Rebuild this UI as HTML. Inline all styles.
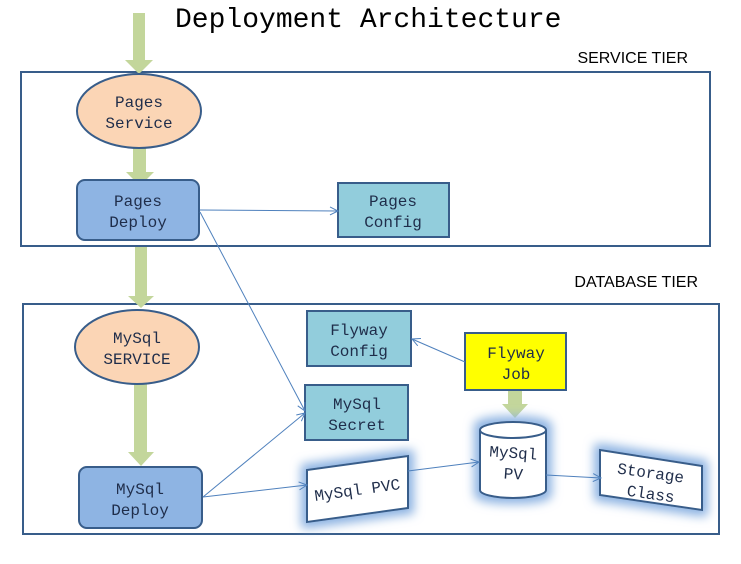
<!DOCTYPE html>
<html><head><style>body{margin:0;background:#fff}svg{display:block}</style></head><body>
<svg width="741" height="564" xmlns="http://www.w3.org/2000/svg" font-family="Liberation Mono, monospace">
<defs>
<marker id="a" markerWidth="10" markerHeight="10" refX="9" refY="5" orient="auto" markerUnits="userSpaceOnUse"><path d="M1,1 L9,5 L1,9" fill="none" stroke="#4f81bd" stroke-width="1"/></marker>
<filter id="g" x="-40%" y="-40%" width="180%" height="180%"><feMorphology in="SourceAlpha" operator="dilate" radius="5" result="d"/><feGaussianBlur in="d" stdDeviation="5" result="b"/><feFlood flood-color="#8db3e2"/><feComposite in2="b" operator="in"/><feMerge><feMergeNode/><feMergeNode in="SourceGraphic"/></feMerge></filter>
</defs>
<text x="175" y="27" font-size="28" fill="#000">Deployment Architecture</text>
<text x="688" y="63" font-size="16" font-family="Liberation Sans, sans-serif" text-anchor="end">SERVICE TIER</text>
<text x="698" y="287" font-size="16" font-family="Liberation Sans, sans-serif" text-anchor="end">DATABASE TIER</text>
<rect x="21" y="72" width="689" height="174" fill="none" stroke="#385d8a" stroke-width="2"/>
<rect x="23" y="304" width="696" height="230" fill="none" stroke="#385d8a" stroke-width="2"/>
<g fill="#c3d69b">
<path d="M133,13h12v47h8l-14,14l-14,-14h8z"/>
<path d="M133,148h13v24h8l-14,14l-14,-14h7z"/>
<path d="M135,247h12v49h7l-13,12l-13,-12h7z"/>
<path d="M134,380h13v72h7l-13,14l-13,-14h6z"/>
<path d="M508,390h14v14h6l-13,14l-13,-14h6z"/>
</g>
<g stroke="#385d8a" stroke-width="2">
<ellipse cx="139" cy="111" rx="62" ry="37" fill="#fbd5b5"/>
<ellipse cx="137" cy="347" rx="62" ry="37" fill="#fbd5b5"/>
<rect x="77" y="180" width="122" height="60" rx="8" fill="#8eb4e3"/>
<rect x="79" y="467" width="123" height="61" rx="8" fill="#8eb4e3"/>
<rect x="338" y="183" width="111" height="54" fill="#92cddc"/>
<rect x="307" y="311" width="104" height="55" fill="#92cddc"/>
<rect x="305" y="385" width="103" height="55" fill="#92cddc"/>
<rect x="465" y="333" width="101" height="57" fill="#ffff00"/>
<path d="M307,470L408,456L408,508L307,522Z" fill="#fff" filter="url(#g)"/>
<path d="M600,450L702,466L702,510L600,495Z" fill="#fff" filter="url(#g)"/>
<path d="M480,430 A33,8 0 0 1 546,430 L546,490 A33,8 0 0 1 480,490 Z" fill="#fff" filter="url(#g)"/>
<path d="M480,430 A33,8 0 0 0 546,430" fill="none"/>
</g>
<g stroke="#4f81bd" stroke-width="1" fill="none" marker-end="url(#a)">
<line x1="200" y1="210" x2="338" y2="211"/>
<line x1="200" y1="212" x2="305" y2="411"/>
<line x1="203" y1="497" x2="305" y2="413"/>
<line x1="203" y1="497" x2="307" y2="485"/>
<line x1="408" y1="471" x2="479" y2="462"/>
<line x1="546" y1="475" x2="601" y2="478"/>
<line x1="465" y1="362" x2="412" y2="339"/>
</g>
<g font-size="16" fill="#1f2d4a" text-anchor="middle">
<text x="139" y="107">Pages</text><text x="139" y="128">Service</text>
<text x="137" y="343">MySql</text><text x="137" y="364">SERVICE</text>
<text x="138" y="206">Pages</text><text x="138" y="227">Deploy</text>
<text x="140" y="494">MySql</text><text x="140" y="515">Deploy</text>
<text x="393" y="206">Pages</text><text x="393" y="227">Config</text>
<text x="359" y="335">Flyway</text><text x="359" y="356">Config</text>
<text x="357" y="409">MySql</text><text x="357" y="430">Secret</text>
<text x="516" y="358">Flyway</text><text x="516" y="379">Job</text>
<text x="513" y="458" transform="rotate(4 513 458)">MySql</text><text x="513" y="479" transform="rotate(4 513 479)">PV</text>
<text x="358" y="495" transform="rotate(-8 358 495)">MySql PVC</text>
<text x="650" y="478" transform="rotate(8 650 478)">Storage</text><text x="650" y="499" transform="rotate(8 650 499)">Class</text>
</g>
</svg>
</body></html>
